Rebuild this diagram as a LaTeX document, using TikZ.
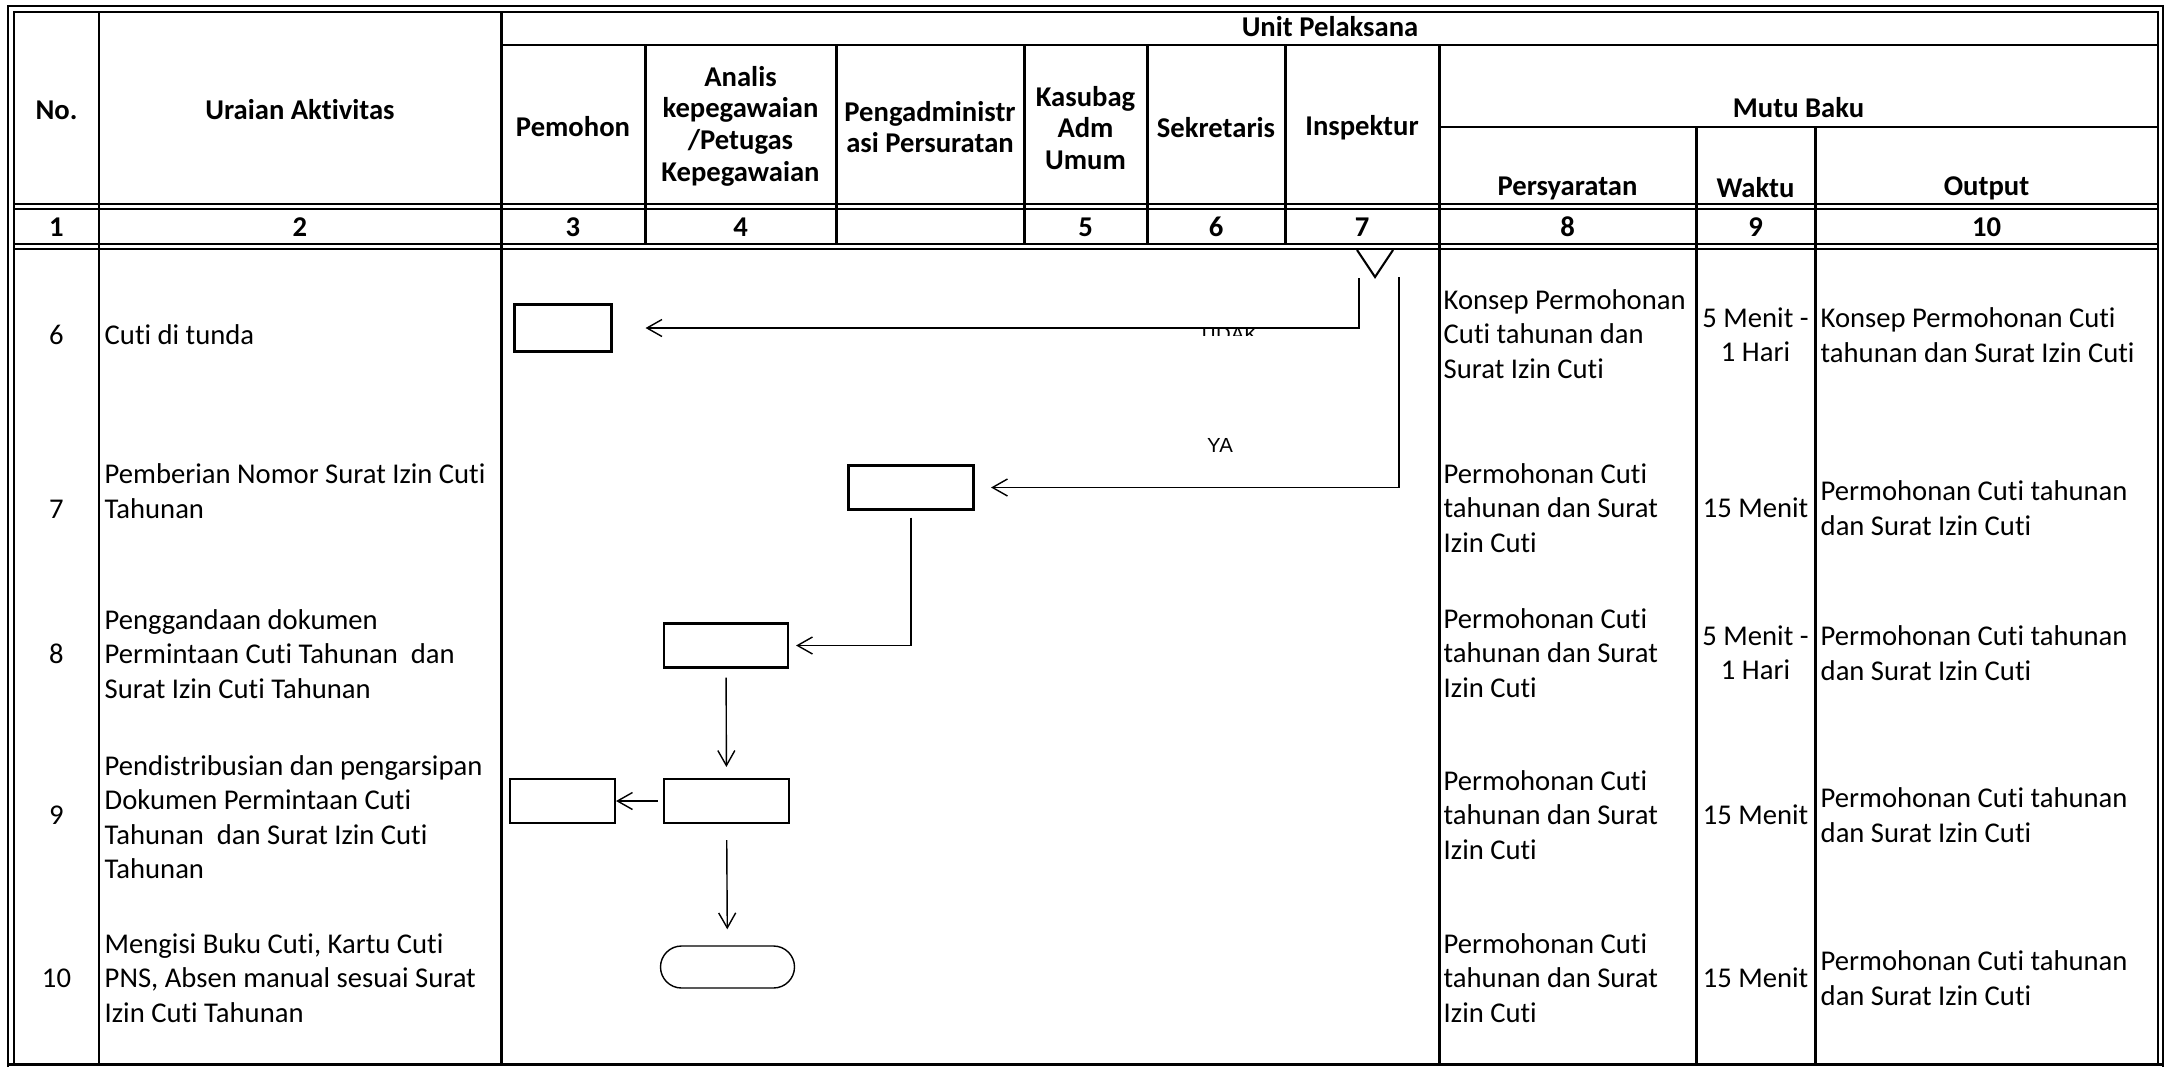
\documentclass[tikz,border=0pt]{standalone}
\usepackage{fontspec}
\setmainfont{Carlito}[Ligatures=NoCommon]
\newfontfamily\lblfont{Liberation Sans}
\usetikzlibrary{arrows.meta,positioning}

\begin{document}
\begin{tikzpicture}[
  x=0.1mm, y=-0.1mm,
  font=\fontsize{8.15}{9.8}\selectfont,
  every node/.style={inner sep=0pt},
  grid/.style={line width=0.85pt},
  fine/.style={line width=0.6pt},
  hd/.style={font={\bfseries\fontsize{8.15}{9}\selectfont\lineskiplimit=-5pt}, align=center},
  num/.style={font=\bfseries\fontsize{8.15}{9.8}\selectfont},
  txt/.style={align=left, anchor=west},
  ctr/.style={align=center},
  box/.style={draw, line width=0.6pt, minimum width=12.5mm, minimum height=4.4mm},
  term/.style={draw, line width=0.4pt, rounded corners=2.1mm, minimum width=13.4mm, minimum height=4.2mm},
  arr/.style={-{Straight Barb[length=1.5mm, width=1.7mm]}, line width=0.4pt},
  lbl/.style={font=\lblfont\fontsize{5.8}{7}\selectfont}
]
\fill[white] (0,0) rectangle (2169,1067);
\useasboundingbox (0,0) rectangle (2169,1067);

% table frame and rules
\draw[line width=0.7pt] (8,1067) -- (8,6) -- (2163,6) -- (2163,1067);
\draw[fine] (14,1064) -- (14,12) -- (2158,12) -- (2158,1064);
\draw[grid] (8,1064) -- (2163,1064);
\draw[grid] (501,45) -- (2158,45);
\draw[grid] (1439,127) -- (2158,127);
\foreach \y in {204,209,244,249} \draw[fine] (14,\y) -- (2158,\y);
\foreach \x in {99,501} \draw[grid] (\x,12) -- (\x,1064);
\draw[grid] (1439,45) -- (1439,1064);
\foreach \x in {645,836,1024,1147,1285} \draw[grid] (\x,45) -- (\x,244);
\foreach \x in {1696,1815} \draw[grid] (\x,127) -- (\x,1064);

% header
\node[hd] (unit) at (1330,27) {Unit Pelaksana};
\node[hd] (no) at (56.5,110) {No.};
\node[hd] (urai) at (300,110) {Uraian Aktivitas};
\node[hd] (pmh) at (573,127) {Pemohon};
\node[hd] (anl) at (740.5,126) {Analis\\kepegawaian\\/Petugas\\Kepegawaian};
\node[hd] (adm) at (930,127) {Pengadministr\\asi Persuratan};
\node[hd] (ksb) at (1085.5,128) {Kasubag\\Adm\\Umum};
\node[hd] (skr) at (1216,128) {Sekretaris};
\node[hd] (ins) at (1362,128) {Inspektur};
\node[hd] (mutu) at (1798.5,108) {Mutu Baku};
\node[hd] (syr) at (1567.5,188) {Persyaratan};
\node[hd] (wkt) at (1755.5,188) {Waktu};
\node[hd] (outp) at (1986.5,188) {Output};
\foreach \n/\x in {1/56.5,2/300,3/573,4/740.5,5/1085.5,6/1216,7/1362,8/1567.5,9/1755.5,10/1986.5}
  \node[num] (c\n) at (\x,227) {\n};

% rows
\foreach \n/\y in {6/335,7/509,8/654,9/815,10/978}
  \node (n\n) at (56.5,\y) {\n};
\node[txt] (u6) at (104,335) {Cuti di tunda};
\node[txt] (u7) at (104,491) {Pemberian Nomor Surat Izin Cuti\\Tahunan};
\node[txt] (u8) at (104,654) {Penggandaan dokumen\\Permintaan Cuti Tahunan\ \ dan\\Surat Izin Cuti Tahunan};
\node[txt] (u9) at (104,817) {Pendistribusian dan pengarsipan\\Dokumen Permintaan Cuti\\Tahunan\ \ dan Surat Izin Cuti\\Tahunan};
\node[txt] (u10) at (104,978) {Mengisi Buku Cuti, Kartu Cuti\\PNS, Absen manual sesuai Surat\\Izin Cuti Tahunan};

\node[txt] (s6) at (1443,334) {Konsep Permohonan\\Cuti tahunan dan\\Surat Izin Cuti};
\foreach \n/\y in {7/508,8/653,9/815,10/978}
  \node[txt] (s\n) at (1443,\y) {Permohonan Cuti\\tahunan dan Surat\\Izin Cuti};

\node[ctr] (w6) at (1755.5,335) {5 Menit -\\1 Hari};
\node[ctr] (w7) at (1755.5,508) {15 Menit};
\node[ctr] (w8) at (1755.5,653) {5 Menit -\\1 Hari};
\node[ctr] (w9) at (1755.5,815) {15 Menit};
\node[ctr] (w10) at (1755.5,978) {15 Menit};

\node[txt] (o6) at (1820,335) {Konsep Permohonan Cuti\\tahunan dan Surat Izin Cuti};
\foreach \n/\y in {7/508,8/653,9/815,10/978}
  \node[txt] (o\n) at (1820,\y) {Permohonan Cuti tahunan\\dan Surat Izin Cuti};

% flow
\node[box, minimum width=9.7mm, minimum height=4.7mm] (p6) at (563,328) {};
\node[box] (d7) at (911,487.5) {};
\node[box, minimum width=12.4mm] (a8) at (726,645.5) {};
\node[box] (a9) at (726.5,801) {};
\node[box, minimum width=10.5mm] (p9) at (562.5,801) {};
\node[term] (e10) at (727.5,967) {};

\coordinate (dl) at (1357,250);
\coordinate (dt) at (1375,277);
\coordinate (dr) at (1393,250);
\draw[fine] (dl) -- (dt) -- (dr);
\coordinate (tdk) at (1359,278);
\coordinate (yes) at (1399,277);

\draw[arr, shorten >=3.3mm] (tdk) |- (p6);
\draw[arr, shorten >=1.65mm] (yes) |- (d7);
\draw[arr, shorten <=0.7mm, shorten >=0.7mm] (d7) |- (a8);
\draw[arr, shorten <=0.9mm, shorten >=1.1mm] (a8) -- (a9);
\draw[arr, shorten <=0.5mm] (a9) -- (p9);
\draw[arr, shorten <=1.6mm, shorten >=1.6mm] (a9) -- (e10);

\node[lbl] (lya) at (1220,445) {YA};
\begin{scope}
  \clip (1190,327) rectangle (1270,335.5);
  \node[lbl] (ltd) at (1228,334.5) {TIDAK};
\end{scope}
\end{tikzpicture}
\end{document}
